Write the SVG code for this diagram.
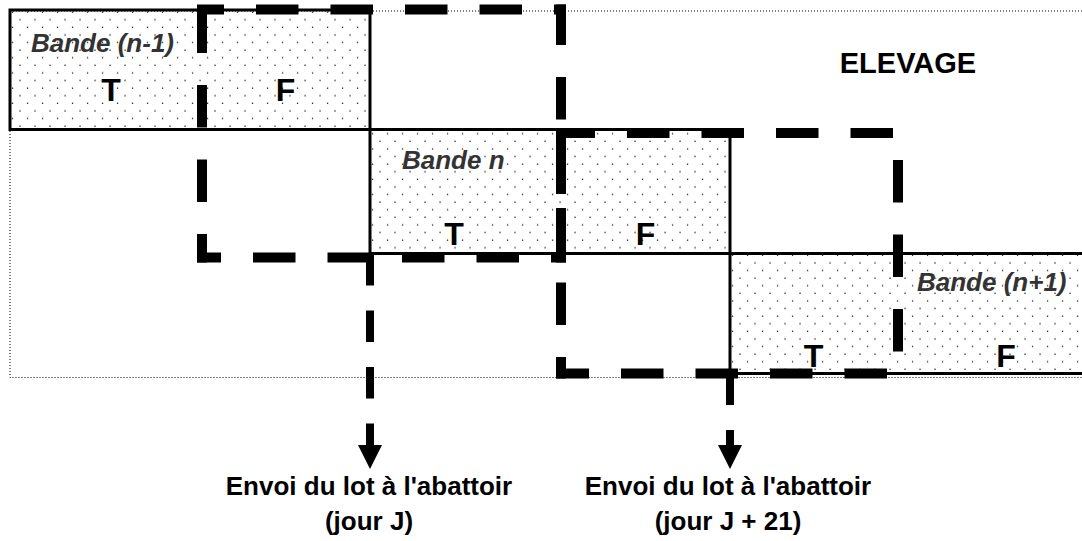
<svg xmlns="http://www.w3.org/2000/svg" width="1082" height="541" viewBox="0 0 1082 541">
<defs>
<pattern id="dots" patternUnits="userSpaceOnUse" x="0" y="0.5" width="15" height="15.2">
<rect x="4.4" y="3.4" width="1.3" height="1.3" fill="#222"/>
<rect x="11.9" y="11" width="1.3" height="1.3" fill="#222"/>
</pattern>
<marker id="ah" markerUnits="userSpaceOnUse" markerWidth="24" markerHeight="24" viewBox="0 0 24 24" refX="2" refY="12" orient="auto">
<path d="M0,0 L24,12 L0,24 z" fill="#000"/>
</marker>
<style>
.frame{fill:none;stroke:#000;stroke-width:1;stroke-dasharray:1 2}
.band{fill:url(#dots);stroke:#000;stroke-width:3}
.dash{fill:none;stroke:#000;stroke-width:10;stroke-dasharray:42.5 32}
.arrow{fill:none;stroke:#000;stroke-width:8;stroke-dasharray:31.5 25;marker-end:url(#ah)}
.lab{font-family:"Liberation Sans",Arial,sans-serif;font-weight:bold;font-style:italic;font-size:26px;fill:#333}
.tf{font-family:"Liberation Sans",Arial,sans-serif;font-weight:bold;font-size:32px;fill:#000;text-anchor:middle}
.title{font-family:"Liberation Sans",Arial,sans-serif;font-weight:bold;font-size:29px;fill:#000;text-anchor:middle}
.cap{font-family:"Liberation Sans",Arial,sans-serif;font-weight:bold;font-size:26px;fill:#000;text-anchor:middle}
</style>
</defs>
<rect width="1082" height="541" fill="#fff"/>
<g id="elevage">
<rect class="frame" x="10" y="11" width="1080" height="366.5"/>
<text class="title" x="908" y="73">ELEVAGE</text>
</g>
<g id="bande-n-1">
<rect class="band" x="10" y="10" width="360" height="119.5"/>
<text class="lab" x="31" y="52">Bande (n-1)</text>
<text class="tf" x="111" y="101">T</text>
<text class="tf" x="285.5" y="101">F</text>
</g>
<g id="bande-n">
<rect class="band" x="370" y="129.5" width="360" height="124"/>
<text class="lab" x="402" y="169">Bande n</text>
<text class="tf" x="454" y="245">T</text>
<text class="tf" x="645.5" y="245">F</text>
</g>
<g id="bande-n1">
<rect class="band" x="730" y="253.5" width="370" height="120"/>
<text class="lab" x="917" y="291">Bande (n+1)</text>
<text class="tf" x="813.5" y="367">T</text>
<text class="tf" x="1006" y="367">F</text>
</g>
<g id="lot-j">
<line class="dash" x1="197" y1="9.5" x2="566" y2="9.5" stroke-dashoffset="15.5"/>
<line class="dash" x1="202" y1="4.5" x2="202" y2="262.5" stroke-dashoffset="68.5"/>
<line class="dash" x1="561" y1="4.5" x2="561" y2="262.5" stroke-dashoffset="2"/>
<line class="dash" x1="197" y1="257.5" x2="566" y2="257.5" stroke-dashoffset="18.5"/>
</g>
<g id="lot-j21">
<line class="dash" x1="556" y1="133" x2="903" y2="133" stroke-dashoffset="3.5"/>
<line class="dash" x1="898" y1="128" x2="898" y2="378.5" stroke-dashoffset="42.5"/>
<line class="dash" x1="556" y1="373.5" x2="903" y2="373.5" stroke-dashoffset="9.5"/>
<line class="dash" x1="561" y1="128" x2="561" y2="378.5" stroke-dashoffset="69"/>
</g>
<g id="connectors">
<line class="arrow" x1="370" y1="254" x2="370" y2="447"/>
<line class="arrow" x1="730" y1="373.5" x2="730" y2="447"/>
</g>
<g id="envoi-j">
<text class="cap" x="369" y="495">Envoi du lot à l'abattoir</text>
<text class="cap" x="369" y="530">(jour J)</text>
</g>
<g id="envoi-j21">
<text class="cap" x="728" y="495">Envoi du lot à l'abattoir</text>
<text class="cap" x="728" y="530">(jour J + 21)</text>
</g>
</svg>
